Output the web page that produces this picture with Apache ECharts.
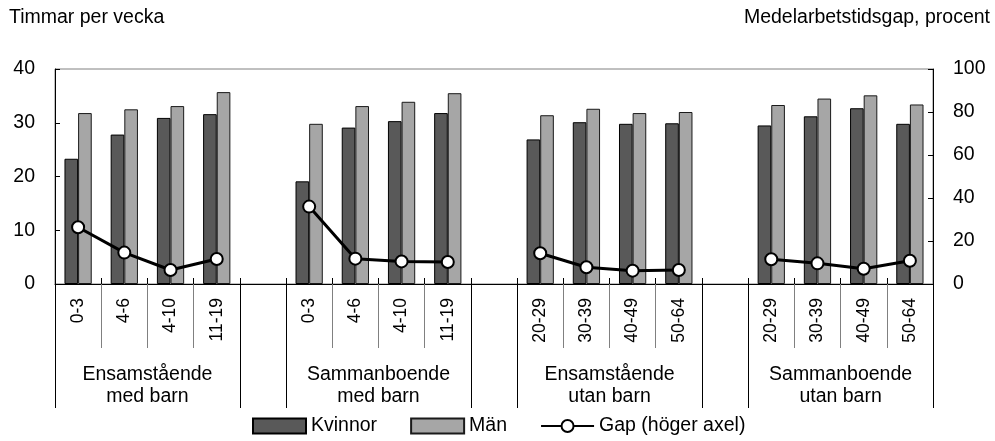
<!DOCTYPE html>
<html>
<head>
<meta charset="utf-8">
<script src="https://cdn.jsdelivr.net/npm/echarts@6/dist/echarts.min.js"></script>
<style>
html,body{margin:0;padding:0;background:#fff;}
#chart{width:995px;height:441px;}
</style>
</head>
<body>
<div id="chart"></div>
<script>
// ---- data ----
var categories = ['0-3','4-6','4-10','11-19','', '0-3','4-6','4-10','11-19','', '20-29','30-39','40-49','50-64','', '20-29','30-39','40-49','50-64'];
var kvinnor = [23.3, 27.8, 30.9, 31.6, null, 19.1, 29.1, 30.3, 31.8, null, 26.9, 30.1, 29.8, 29.9, null, 29.5, 31.2, 32.7, 29.8];
var man     = [31.8, 32.5, 33.1, 35.7, null, 29.8, 33.1, 33.9, 35.5, null, 31.4, 32.6, 31.8, 32.0, null, 33.3, 34.5, 35.1, 33.4];
var gap     = [26.4, 14.6, 6.5, 11.6, null, 36.0, 11.8, 10.5, 10.2, null, 14.3, 7.8, 6.2, 6.5, null, 11.5, 9.6, 7.1, 10.8];
var groupLabels = ['Ensamstående\nmed barn', 'Sammanboende\nmed barn', 'Ensamstående\nutan barn', 'Sammanboende\nutan barn'];
var leftTicks = [0, 10, 20, 30, 40];
var rightTicks = [0, 20, 40, 60, 80, 100];
var seriesNames = ['Kvinnor', 'Män', 'Gap (höger axel)'];
var leftTitle = 'Timmar per vecka';
var rightTitle = 'Medelarbetstidsgap, procent';

// derive group boundaries (in category units) from the empty separator categories
var boundaries = [0], centers = [];
(function(){
  var start = 0;
  for (var i = 0; i <= categories.length; i++) {
    if (i === categories.length || categories[i] === '') {
      if (i > start) {
        if (boundaries[boundaries.length-1] !== start) boundaries.push(start);
        boundaries.push(i);
        centers.push((start + i) / 2);
      }
      start = i + 1;
    }
  }
})();

var FONT = '"Liberation Sans", Arial, sans-serif';
var FS = 19.5;
var chart = echarts.init(document.getElementById('chart'), null, {renderer: 'canvas'});
var option = {
  animation: false,
  backgroundColor: '#fff',
  textStyle: {fontFamily: FONT, color: '#000'},
  title: [
    {text: leftTitle, left: 9, top: 8, padding: 0, textStyle: {fontFamily: FONT, fontSize: FS, fontWeight: 'normal', color: '#000'}},
    {text: rightTitle, right: 5, top: 8, padding: 0, textStyle: {fontFamily: FONT, fontSize: FS, fontWeight: 'normal', color: '#000'}}
  ],
  grid: {left: 55, right: 62, top: 69, bottom: 157, show: true, borderColor: '#808080', borderWidth: 1, containLabel: false},
  legend: {
    left: 252, top: 416, padding: 0,
    itemWidth: 53, itemHeight: 15, itemGap: 33,
    textStyle: {fontFamily: FONT, fontSize: FS, color: '#000'},
    data: [
      {name: seriesNames[0], icon: 'rect'},
      {name: seriesNames[1], icon: 'rect'},
      {name: seriesNames[2]}
    ]
  },
  xAxis: [
    {
      type: 'category', data: categories, position: 'bottom', gridIndex: 0,
      axisLine: {show: true, lineStyle: {color: '#000', width: 1}},
      axisTick: {show: true, inside: true, length: 6, lineStyle: {color: '#000'}},
      axisLabel: {show: true, rotate: 90, margin: 14, fontFamily: FONT, fontSize: 17.5, color: '#000', interval: 0},
      splitLine: {show: false}
    },
    {
      type: 'category', data: categories, position: 'bottom', gridIndex: 0,
      axisLine: {show: false},
      axisTick: {show: true, inside: false, length: 64, lineStyle: {color: '#808080'}},
      axisLabel: {show: false},
      splitLine: {show: false}
    },
    {
      type: 'value', min: 0, max: categories.length, position: 'bottom', gridIndex: 0,
      axisLine: {show: false},
      axisTick: {show: true, inside: false, length: 124, customValues: boundaries, lineStyle: {color: '#000'}},
      axisLabel: {
        show: true, margin: 80, customValues: centers,
        fontFamily: FONT, fontSize: FS, lineHeight: 22, color: '#000', align: 'center',
        formatter: function(v){ var k = centers.indexOf(v); return k >= 0 ? groupLabels[k] : ''; }
      },
      splitLine: {show: false}
    }
  ],
  yAxis: [
    {
      type: 'value', min: leftTicks[0], max: leftTicks[leftTicks.length-1], interval: leftTicks[1]-leftTicks[0],
      position: 'left',
      axisLine: {show: true, lineStyle: {color: '#000'}},
      axisTick: {show: true, inside: true, length: 5, lineStyle: {color: '#000'}},
      axisLabel: {margin: 20, fontFamily: FONT, fontSize: FS, color: '#000'},
      splitLine: {show: false}
    },
    {
      type: 'value', min: rightTicks[0], max: rightTicks[rightTicks.length-1], interval: rightTicks[1]-rightTicks[0],
      position: 'right',
      axisLine: {show: true, lineStyle: {color: '#000'}},
      axisTick: {show: true, inside: true, length: 5, lineStyle: {color: '#000'}},
      axisLabel: {margin: 20, fontFamily: FONT, fontSize: FS, color: '#000'},
      splitLine: {show: false}
    }
  ],
  series: [
    {
      name: seriesNames[0], type: 'bar', xAxisIndex: 0, yAxisIndex: 0, data: kvinnor,
      barGap: '0%', barCategoryGap: '41%',
      itemStyle: {color: '#595959', borderColor: '#000', borderWidth: 1}
    },
    {
      name: seriesNames[1], type: 'bar', xAxisIndex: 0, yAxisIndex: 0, data: man,
      barGap: '0%', barCategoryGap: '41%',
      itemStyle: {color: '#a6a6a6', borderColor: '#1a1a1a', borderWidth: 1}
    },
    {
      name: seriesNames[2], type: 'line', xAxisIndex: 0, yAxisIndex: 1, data: gap,
      connectNulls: false, symbol: 'circle', symbolSize: 12, showAllSymbol: true,
      lineStyle: {color: '#000', width: 3},
      itemStyle: {color: '#fff', borderColor: '#000', borderWidth: 2},
      z: 5
    }
  ]
};
chart.setOption(option);
</script>
</body>
</html>
